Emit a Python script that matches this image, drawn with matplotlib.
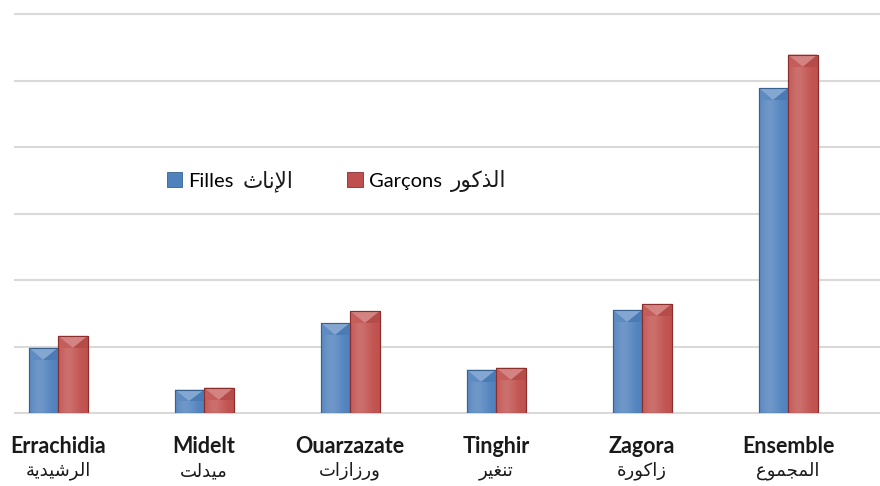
import matplotlib
matplotlib.use("Agg")
import matplotlib.pyplot as plt
import numpy as np
from matplotlib import transforms
from matplotlib.patches import Patch, Polygon
from matplotlib.colors import to_rgb

# ---------------- data ----------------
categories_fr = ["Errachidia", "Midelt", "Ouarzazate", "Tinghir", "Zagora", "Ensemble"]
categories_ar = ["الرشيدية", "ميدلت", "ورزازات", "تنغير", "زاكورة", "المجموع"]
filles = [980, 350, 1350, 650, 1550, 4880]
garcons = [1160, 380, 1530, 680, 1640, 5390]
series_fr = ["Filles", "Garçons"]
series_ar = ["الإناث", "الذكور"]
yticks = [0, 1000, 2000, 3000, 4000, 5000, 6000]

# ---------------- simple Arabic shaping (presentation forms, visual order) ----------------
FORMS = {
    '\u0627': ('\uFE8D', '\uFE8E', None, None),
    '\u0625': ('\uFE87', '\uFE88', None, None),
    '\u0629': ('\uFE93', '\uFE94', None, None),
    '\u062A': ('\uFE95', '\uFE96', '\uFE97', '\uFE98'),
    '\u062B': ('\uFE99', '\uFE9A', '\uFE9B', '\uFE9C'),
    '\u062C': ('\uFE9D', '\uFE9E', '\uFE9F', '\uFEA0'),
    '\u062F': ('\uFEA9', '\uFEAA', None, None),
    '\u0630': ('\uFEAB', '\uFEAC', None, None),
    '\u0631': ('\uFEAD', '\uFEAE', None, None),
    '\u0632': ('\uFEAF', '\uFEB0', None, None),
    '\u0634': ('\uFEB5', '\uFEB6', '\uFEB7', '\uFEB8'),
    '\u0639': ('\uFEC9', '\uFECA', '\uFECB', '\uFECC'),
    '\u063A': ('\uFECD', '\uFECE', '\uFECF', '\uFED0'),
    '\u0643': ('\uFED9', '\uFEDA', '\uFEDB', '\uFEDC'),
    '\u0644': ('\uFEDD', '\uFEDE', '\uFEDF', '\uFEE0'),
    '\u0645': ('\uFEE1', '\uFEE2', '\uFEE3', '\uFEE4'),
    '\u0646': ('\uFEE5', '\uFEE6', '\uFEE7', '\uFEE8'),
    '\u0648': ('\uFEED', '\uFEEE', None, None),
    '\u064A': ('\uFEF1', '\uFEF2', '\uFEF3', '\uFEF4'),
}
LAM_ALEF = {'\u0627': ('\uFEFB', '\uFEFC'), '\u0625': ('\uFEF9', '\uFEFA'),
            '\u0623': ('\uFEF7', '\uFEF8'), '\u0622': ('\uFEF5', '\uFEF6')}


def shape(word):
    units = []
    i = 0
    while i < len(word):
        c = word[i]
        if c == '\u0644' and i + 1 < len(word) and word[i + 1] in LAM_ALEF:
            iso, fin = LAM_ALEF[word[i + 1]]
            units.append((iso, fin, None, None))
            i += 2
        elif c in FORMS:
            units.append(FORMS[c])
            i += 1
        else:
            units.append((c, None, None, None))
            i += 1
    out = []
    for k, u in enumerate(units):
        prev = units[k - 1] if k > 0 else None
        nxt = units[k + 1] if k + 1 < len(units) else None
        jp = prev is not None and prev[2] is not None and u[1] is not None
        jn = nxt is not None and u[2] is not None and nxt[1] is not None
        if jp and jn:
            g = u[3]
        elif jp:
            g = u[1]
        elif jn:
            g = u[2]
        else:
            g = u[0]
        out.append(g)
    return ''.join(reversed(out))


# ---------------- figure ----------------
W, H = 880, 486
fig = plt.figure(figsize=(W / 100, H / 100), dpi=100)
ax = fig.add_axes([15 / W, (H - 413) / H, 865 / W, 399 / H])
ax.set_xlim(-0.295, 5.63)
ax.set_ylim(0, 6000)
ax.axis("off")

for v in yticks:
    ax.axhline(v, color="#d9d9d9", lw=1.5, zorder=0, clip_on=False)

x = np.arange(len(categories_fr))
bw = 0.202
colors = ["#4f81bd", "#c0504d"]
edges = ["#37618f", "#8a2f2d"]
data_px = 6000 / 399.0


def lighten(c, f):
    r = np.array(to_rgb(c))
    return tuple(r + (1 - r) * f)


def darken(c, f):
    r = np.array(to_rgb(c))
    return tuple(r * (1 - f))


for s, vals in enumerate([filles, garcons]):
    offs = -bw / 2 if s == 0 else bw / 2
    bars = ax.bar(x + offs, vals, width=bw, color=colors[s], edgecolor=edges[s],
                  linewidth=0.8, zorder=3)
    for b in bars:
        x0 = b.get_x()
        x1 = x0 + b.get_width()
        h = b.get_height()
        # horizontal shading
        grad = np.zeros((2, 60, 4))
        t = np.linspace(0, 1, 60)
        alpha = 0.18 * np.exp(-((t - 0.35) / 0.35) ** 2)
        grad[:, :, :3] = 1.0
        grad[:, :, 3] = alpha
        im = ax.imshow(grad, extent=[x0, x1, 0, h], aspect="auto", zorder=4,
                       interpolation="bilinear")
        im.set_clip_path(b)
        # bevel cap
        d = min(12 * data_px, h / 2)
        xc = (x0 + x1) / 2
        ax.add_patch(Polygon([[x0, h], [x1, h], [xc, h - d]], closed=True,
                             facecolor=lighten(colors[s], 0.3), edgecolor="none", zorder=5))
        ax.add_patch(Polygon([[x0, h], [x0, h - d], [xc, h - d]], closed=True,
                             facecolor=lighten(colors[s], 0.08), edgecolor="none", zorder=5))
        ax.add_patch(Polygon([[x1, h], [x1, h - d], [xc, h - d]], closed=True,
                             facecolor=darken(colors[s], 0.05), edgecolor="none", zorder=5))
        ax.plot([x0, x1, x1, x0, x0], [0, 0, h, h, 0], color=edges[s], lw=0.8, zorder=6)

# category labels
trans = transforms.blended_transform_factory(ax.transData, fig.transFigure)
for i, (fr, ar) in enumerate(zip(categories_fr, categories_ar)):
    ax.text(x[i], 1 - 446 / H, fr, transform=trans, ha="center", va="center",
            fontsize=15.5, fontweight="bold", family=["Lato", "DejaVu Sans"], color="#1a1a1a")
    ax.text(x[i], 1 - 471 / H, shape(ar), transform=trans, ha="center", va="center",
            fontsize=13, family=["DejaVu Sans"], color="#1a1a1a")

# legend (Latin part), Arabic part appended right after each entry
handles = [Patch(facecolor=colors[k], edgecolor=edges[k], linewidth=0.6) for k in range(2)]
leg = ax.legend(handles, series_fr, ncol=2, loc="center left",
                bbox_to_anchor=(149 / W, 1 - 181 / H), bbox_transform=fig.transFigure,
                frameon=False, handlelength=0.75, handleheight=0.75, handletextpad=0.3,
                columnspacing=5.65, prop={"family": ["Lato", "DejaVu Sans"], "size": 14.5})

fig.canvas.draw()
renderer = fig.canvas.get_renderer()
for k, t in enumerate(leg.get_texts()):
    bb = t.get_window_extent(renderer)
    fig.text((bb.x1 + 9) / W, (bb.y0 + bb.y1) / 2 / H, shape(series_ar[k]),
             ha="left", va="center", fontsize=15.5, family=["DejaVu Sans"], color="#1a1a1a")

fig.savefig("out.png", dpi=100)
